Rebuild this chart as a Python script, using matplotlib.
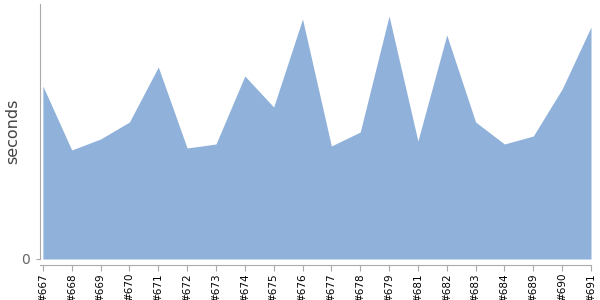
import matplotlib
matplotlib.use("Agg")
from matplotlib import pyplot as plt
import numpy as np

# build ids on the x axis
builds = ["#667", "#668", "#669", "#670", "#671", "#672", "#673", "#674", "#675", "#676",
          "#677", "#678", "#679", "#681", "#682", "#683", "#684", "#689", "#690", "#691"]
# duration per build (arbitrary units)
seconds = [173, 109, 120, 137, 192, 111, 115, 183, 152, 240,
           113, 127, 243, 118, 224, 137, 115, 123, 170, 232]

fill_color = "#8FB1DA"
axis_color = "#AAAAAA"

fig = plt.figure(figsize=(6, 3), dpi=100)
ax = fig.add_axes([40 / 600, 1 - 259 / 300, 551 / 600, 255 / 300])

x = np.arange(len(builds))
ax.fill_between(x, 0, seconds, color=fill_color, linewidth=0)

ax.set_xlim(-0.1, len(builds) - 1)
ax.set_ylim(0, 255)

# spines first: moving a spine resets the tick label styling
for side in ["top", "right"]:
    ax.spines[side].set_visible(False)
ax.spines["left"].set_color(axis_color)
ax.spines["bottom"].set_color(axis_color)
ax.spines["bottom"].set_position(("outward", 4))
ax.spines["left"].set_bounds(0, 255)

ax.set_xticks(x)
ax.set_xticklabels(builds, rotation=90, fontsize=7.5, color="black")
ax.set_yticks([0])
ax.set_yticklabels(["0"], fontsize=10, color="#666666")
ax.tick_params(axis="x", length=4, width=0.8, color=axis_color, pad=2)
ax.tick_params(axis="y", length=3, width=0.8, color=axis_color, pad=4)

ax.set_ylabel("seconds", fontsize=11.5, color="#444444")
ax.yaxis.set_label_coords(-0.036, 0.5)

fig.savefig("out.png", dpi=100)
plt.close()
